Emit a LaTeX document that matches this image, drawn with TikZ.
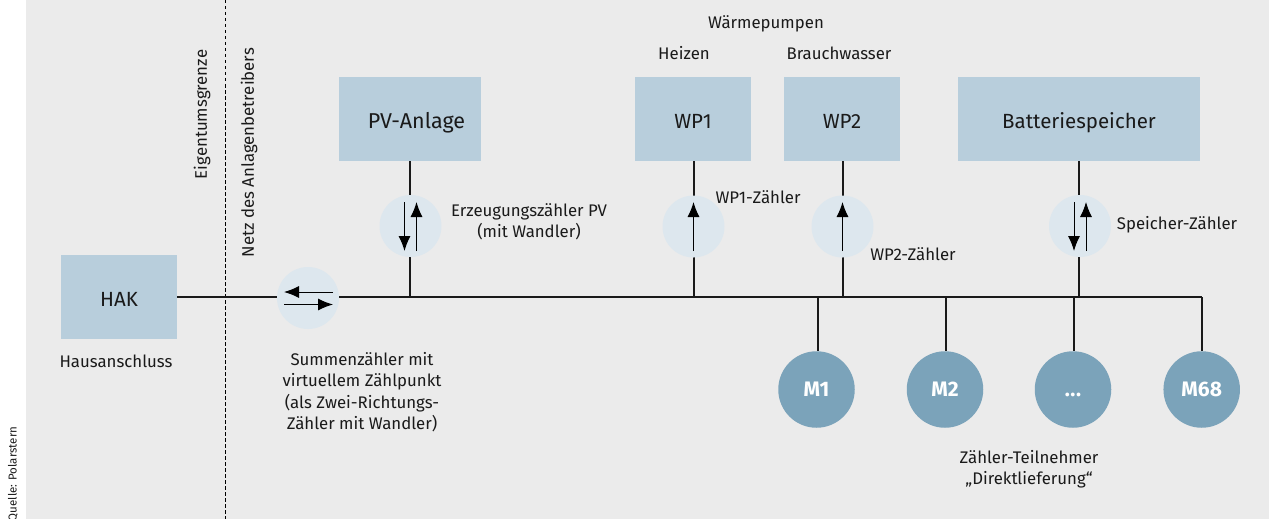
\documentclass[tikz,border=0pt]{standalone}
\usepackage{fontspec}
\setmainfont{Fira Sans}
\usetikzlibrary{arrows.meta}
\definecolor{bgc}{HTML}{EBEBEB}
\definecolor{boxc}{HTML}{B8CEDC}
\definecolor{metc}{HTML}{DDE7EE}
\definecolor{mc}{HTML}{7BA3BA}
\definecolor{txt}{HTML}{1A1A1A}
\newcommand{\boxtext}[1]{\raisebox{-9.5pt}[0pt][0pt]{#1}}
\tikzset{
  x=1pt,y=-1pt,
  bluebox/.style={fill=boxc,inner sep=0,minimum height=84pt,font=\fontsize{20.5}{24}\selectfont,text=txt},
  meter/.style={circle,fill=metc,minimum size=62pt,inner sep=0},
  mnode/.style={circle,fill=mc,minimum size=76.5pt,inner sep=0,text=white,font=\fontsize{21}{25}\selectfont\bfseries},
  lbl/.style={font=\fontsize{16.8}{21.5}\selectfont,text=txt,align=center,inner sep=0},
  wire/.style={line width=1.2pt,draw=black!90},
  flow/.style={line width=1pt,-{Latex[length=15pt,width=12pt]}},
}
\begin{document}
\begin{tikzpicture}
\useasboundingbox (0,0) rectangle (1269,519);
\fill[bgc] (26,0) rectangle (1269,519);
\coordinate (dt) at (225,0);
\coordinate (db) at (225,519);
\draw[line width=1pt,dash pattern=on 3.5pt off 2.5pt] (dt) -- (db);
\node[bluebox,minimum width=116pt] (hak) at (119,297) {\boxtext{HAK}};
\node[bluebox,minimum width=142pt] (pv) at (410,119) {\boxtext{\hspace*{13pt}\fontsize{21.5}{24}\selectfont PV-Anlage}};
\node[bluebox,minimum width=116pt] (wp1) at (693,119) {\boxtext{WP1}};
\node[bluebox,minimum width=116pt] (wp2) at (842,119) {\boxtext{WP2}};
\node[bluebox,minimum width=242pt] (bat) at (1079,119) {\boxtext{Batteriespeicher}};
\coordinate (bend) at (1202,297);
\coordinate (jpv) at (410,297);
\coordinate (jw1) at (694,297);
\coordinate (jw2) at (843,297);
\coordinate (jbat) at (1079,297);
\coordinate (jm1) at (818,297);
\coordinate (jm2) at (946,297);
\coordinate (jm3) at (1074,297);
\draw[wire] (hak.east |- bend) -- (bend);
\draw[wire] (pv.south -| jpv) -- (jpv);
\draw[wire] (wp1.south -| jw1) -- (jw1);
\draw[wire] (wp2.south -| jw2) -- (jw2);
\draw[wire] (bat.south -| jbat) -- (jbat);
\node[mnode] (m1) at (816.5,389.5) {M1};
\node[mnode] (m2) at (945,389.5) {M2};
\node[mnode] (m3) at (1073,389.5) {\vphantom{M}.\kern.5pt.\kern.5pt.};
\node[mnode] (m4) at (1201.7,389.5) {M68};
\draw[wire] (jm1) -- (jm1 |- m1.north);
\draw[wire] (jm2) -- (jm2 |- m2.north);
\draw[wire] (jm3) -- (jm3 |- m3.north);
\draw[wire] (bend) -- (bend |- m4.north);
\node[meter] (ms) at (308,298) {};
\node[meter] (mpv) at (410.5,226) {};
\node[meter] (mw1) at (693.5,226.5) {};
\node[meter] (mw2) at (842.5,226.5) {};
\node[meter] (mb) at (1080,226) {};
% arrows
\draw[flow] (333,292) -- (284,292);
\draw[flow] (284,304.5) -- (333,304.5);
\draw[flow] (404.5,202) -- (404.5,251);
\draw[flow] (416.5,251) -- (416.5,202);
\draw[flow] (693.5,251) -- (693.5,202);
\draw[flow] (842.5,251) -- (842.5,202);
\draw[flow] (1074,202) -- (1074,251);
\draw[flow] (1086,251) -- (1086,202);
% labels
\node[lbl,rotate=90] (l1) at (202,114.5) {Eigentumsgrenze};
\node[lbl,rotate=90] (l2) at (249,152.5) {Netz des Anlagenbetreibers};
\node[lbl] (l3) at (766,24) {Wärmepumpen};
\node[lbl] (l4) at (684,53) {Heizen};
\node[lbl] (l5) at (839,53) {Brauchwasser};
\node[lbl] (l6) at (529,222) {Erzeugungszähler PV\\(mit Wandler)};
\node[lbl] (l7) at (758,197) {WP1-Zähler};
\node[lbl] (l8) at (913,254) {WP2-Zähler};
\node[lbl] (l9) at (1177,225) {Speicher-Zähler};
\node[lbl] (l10) at (116,361) {Hausanschluss};
\node[lbl] (l11) at (362,392) {Summenzähler mit\\virtuellem Zählpunkt\\(als Zwei-Richtungs-\\Zähler mit Wandler)};
\node[lbl] (l12) at (1029,469) {Zähler-Teilnehmer\\„Direktlieferung“};
\node[lbl,rotate=90,font=\fontsize{11.5}{14}\selectfont] (l13) at (13,474) {Quelle: Polarstern};
\end{tikzpicture}
\end{document}
